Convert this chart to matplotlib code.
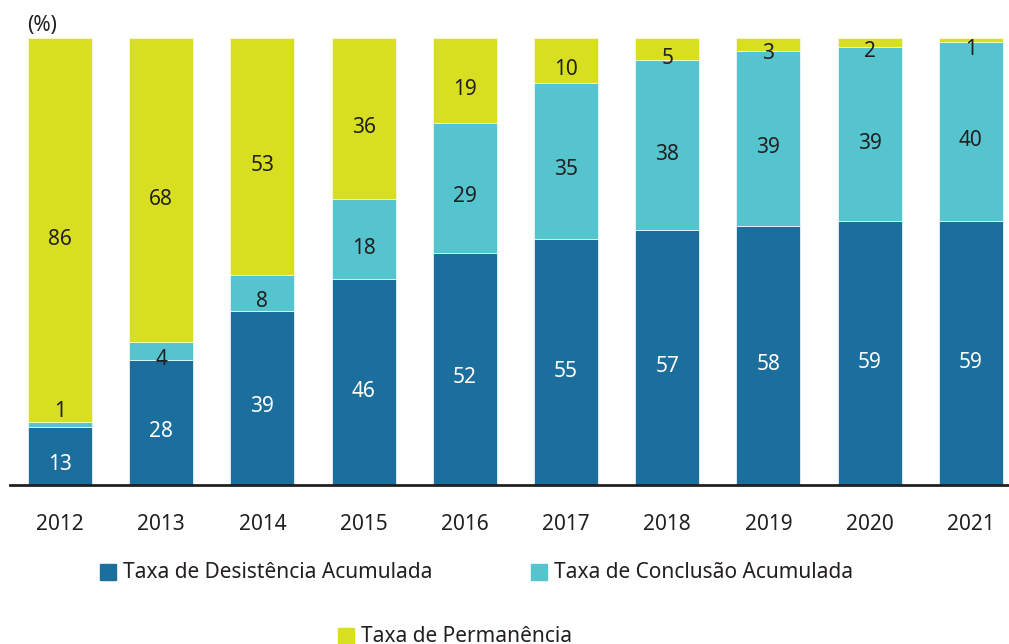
import matplotlib
matplotlib.use("Agg")
import matplotlib.pyplot as plt
from matplotlib.patches import Rectangle
import numpy as np

years = ["2012", "2013", "2014", "2015", "2016", "2017", "2018", "2019", "2020", "2021"]
desistencia = [13, 28, 39, 46, 52, 55, 57, 58, 59, 59]
conclusao = [1, 4, 8, 18, 29, 35, 38, 39, 39, 40]
permanencia = [86, 68, 53, 36, 19, 10, 5, 3, 2, 1]
series_names = ["Taxa de Desistência Acumulada", "Taxa de Conclusão Acumulada", "Taxa de Permanência"]

C_DES = "#1c6e9c"
C_CON = "#55c4cf"
C_PER = "#d8df21"
TXT = "#231f20"

plt.rcParams['font.family'] = ['Noto Sans', 'DejaVu Sans']
FS = 15

W, H = 1009, 644
fig = plt.figure(figsize=(W / 100, H / 100), dpi=100)
ax = fig.add_axes([10 / W, 1 - 485 / H, (1009 - 10) / W, (485 - 38) / H])

x = np.arange(len(years))
width = 0.632
des = np.array(desistencia, float)
con = np.array(conclusao, float)
per = np.array(permanencia, float)

ax.bar(x, des, width, color=C_DES, edgecolor="#e8f2f6", linewidth=0.6)
ax.bar(x, con, width, bottom=des, color=C_CON, edgecolor="#e8f8fa", linewidth=0.6)
ax.bar(x, per, width, bottom=des + con, color=C_PER, edgecolor="#f6f8d8", linewidth=0.6)

OFF = -6.5
for i in range(len(years)):
    ax.annotate(f"{int(des[i])}", (x[i], des[i] / 2), xytext=(0, OFF), textcoords="offset points",
                ha="center", va="center", color="white", fontsize=FS)
    if con[i] < 2:
        ax.annotate(f"{int(con[i])}", (x[i], des[i] + con[i]), xytext=(0, 0), textcoords="offset points",
                    ha="center", va="bottom", color=TXT, fontsize=FS)
    else:
        ax.annotate(f"{int(con[i])}", (x[i], des[i] + con[i] / 2), xytext=(0, OFF), textcoords="offset points",
                    ha="center", va="center", color=TXT, fontsize=FS)
    ax.annotate(f"{int(per[i])}", (x[i], des[i] + con[i] + per[i] / 2), xytext=(0, OFF), textcoords="offset points",
                ha="center", va="center", color=TXT, fontsize=FS)

ax.set_xlim(-0.494, 9.377)
ax.set_ylim(0, 100)
for s in ["top", "right", "left"]:
    ax.spines[s].set_visible(False)
ax.spines["bottom"].set_color(TXT)
ax.spines["bottom"].set_linewidth(2)
ax.set_yticks([])
ax.set_xticks(x)
ax.set_xticklabels(years, fontsize=FS, color=TXT)
ax.tick_params(axis="x", length=0, pad=21)

fig.text(27 / W, 1 - 25 / H, "(%)", fontsize=FS, color=TXT, ha="left", va="center")

# legend
legend_items = [
    (100, 572, C_DES, series_names[0]),
    (531, 572, C_CON, series_names[1]),
    (338, 636, C_PER, series_names[2]),
]
for lx, ly, col, lab in legend_items:
    fig.patches.append(Rectangle((lx / W, 1 - (ly + 8) / H), 16 / W, 16 / H,
                                 transform=fig.transFigure, color=col, zorder=5))
    fig.text((lx + 23) / W, 1 - ly / H, lab, fontsize=FS, color=TXT, ha="left", va="center")

fig.savefig("out.png", dpi=100)
